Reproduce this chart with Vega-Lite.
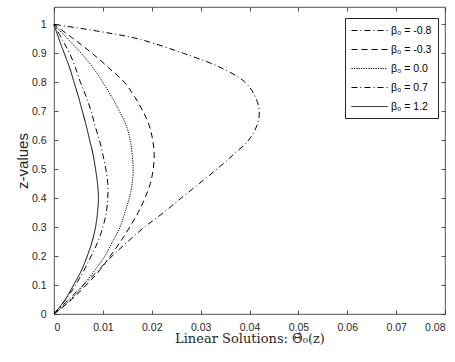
{
  "$schema": "https://vega.github.io/schema/vega-lite/v6.json",
  "autosize": {"type": "none"},
  "width": 391,
  "height": 307,
  "padding": {"left": 54, "top": 7, "right": 10, "bottom": 48},
  "background": "white",
  "config": {
    "view": {"stroke": "#262626", "strokeWidth": 0.8},
    "font": "Liberation Sans",
    "axis": {
      "domain": false,
      "grid": false,
      "tickColor": "#262626",
      "tickSize": -4,
      "tickWidth": 0.8,
      "labelColor": "#262626",
      "labelFont": "Liberation Sans",
      "labelFontSize": 10.5,
      "titleColor": "#262626",
      "titleFontWeight": "normal"
    }
  },
  "data": {
    "values": [
      {"beta": "β₀ = -0.8", "z": 0, "v": 0},
      {"beta": "β₀ = -0.8", "z": 0.05, "v": 0.0030},
      {"beta": "β₀ = -0.8", "z": 0.1, "v": 0.0060},
      {"beta": "β₀ = -0.8", "z": 0.15, "v": 0.0090},
      {"beta": "β₀ = -0.8", "z": 0.2, "v": 0.0119},
      {"beta": "β₀ = -0.8", "z": 0.25, "v": 0.0151},
      {"beta": "β₀ = -0.8", "z": 0.3, "v": 0.0185},
      {"beta": "β₀ = -0.8", "z": 0.35, "v": 0.0224},
      {"beta": "β₀ = -0.8", "z": 0.4, "v": 0.0260},
      {"beta": "β₀ = -0.8", "z": 0.45, "v": 0.0297},
      {"beta": "β₀ = -0.8", "z": 0.5, "v": 0.0333},
      {"beta": "β₀ = -0.8", "z": 0.55, "v": 0.0367},
      {"beta": "β₀ = -0.8", "z": 0.6, "v": 0.0398},
      {"beta": "β₀ = -0.8", "z": 0.65, "v": 0.0415},
      {"beta": "β₀ = -0.8", "z": 0.7, "v": 0.0420},
      {"beta": "β₀ = -0.8", "z": 0.75, "v": 0.0412},
      {"beta": "β₀ = -0.8", "z": 0.8, "v": 0.0391},
      {"beta": "β₀ = -0.8", "z": 0.85, "v": 0.0342},
      {"beta": "β₀ = -0.8", "z": 0.9, "v": 0.0265},
      {"beta": "β₀ = -0.8", "z": 0.95, "v": 0.0172},
      {"beta": "β₀ = -0.8", "z": 0.975, "v": 0.0095},
      {"beta": "β₀ = -0.8", "z": 1, "v": 0},
      {"beta": "β₀ = -0.3", "z": 0, "v": 0},
      {"beta": "β₀ = -0.3", "z": 0.05, "v": 0.0036},
      {"beta": "β₀ = -0.3", "z": 0.1, "v": 0.0066},
      {"beta": "β₀ = -0.3", "z": 0.15, "v": 0.0093},
      {"beta": "β₀ = -0.3", "z": 0.2, "v": 0.0115},
      {"beta": "β₀ = -0.3", "z": 0.25, "v": 0.0136},
      {"beta": "β₀ = -0.3", "z": 0.3, "v": 0.0155},
      {"beta": "β₀ = -0.3", "z": 0.35, "v": 0.0172},
      {"beta": "β₀ = -0.3", "z": 0.4, "v": 0.0186},
      {"beta": "β₀ = -0.3", "z": 0.45, "v": 0.0197},
      {"beta": "β₀ = -0.3", "z": 0.5, "v": 0.0203},
      {"beta": "β₀ = -0.3", "z": 0.55, "v": 0.0205},
      {"beta": "β₀ = -0.3", "z": 0.6, "v": 0.0202},
      {"beta": "β₀ = -0.3", "z": 0.65, "v": 0.0195},
      {"beta": "β₀ = -0.3", "z": 0.7, "v": 0.0182},
      {"beta": "β₀ = -0.3", "z": 0.75, "v": 0.0165},
      {"beta": "β₀ = -0.3", "z": 0.8, "v": 0.0144},
      {"beta": "β₀ = -0.3", "z": 0.85, "v": 0.0112},
      {"beta": "β₀ = -0.3", "z": 0.9, "v": 0.0078},
      {"beta": "β₀ = -0.3", "z": 0.95, "v": 0.0040},
      {"beta": "β₀ = -0.3", "z": 1, "v": 0},
      {"beta": "β₀ = 0.0", "z": 0, "v": 0},
      {"beta": "β₀ = 0.0", "z": 0.05, "v": 0.0034},
      {"beta": "β₀ = 0.0", "z": 0.1, "v": 0.0060},
      {"beta": "β₀ = 0.0", "z": 0.15, "v": 0.0083},
      {"beta": "β₀ = 0.0", "z": 0.2, "v": 0.0104},
      {"beta": "β₀ = 0.0", "z": 0.25, "v": 0.0120},
      {"beta": "β₀ = 0.0", "z": 0.3, "v": 0.0135},
      {"beta": "β₀ = 0.0", "z": 0.35, "v": 0.0145},
      {"beta": "β₀ = 0.0", "z": 0.4, "v": 0.0154},
      {"beta": "β₀ = 0.0", "z": 0.45, "v": 0.0160},
      {"beta": "β₀ = 0.0", "z": 0.5, "v": 0.0162},
      {"beta": "β₀ = 0.0", "z": 0.55, "v": 0.0160},
      {"beta": "β₀ = 0.0", "z": 0.6, "v": 0.0156},
      {"beta": "β₀ = 0.0", "z": 0.65, "v": 0.0148},
      {"beta": "β₀ = 0.0", "z": 0.7, "v": 0.0134},
      {"beta": "β₀ = 0.0", "z": 0.75, "v": 0.0118},
      {"beta": "β₀ = 0.0", "z": 0.8, "v": 0.0100},
      {"beta": "β₀ = 0.0", "z": 0.85, "v": 0.0080},
      {"beta": "β₀ = 0.0", "z": 0.9, "v": 0.0056},
      {"beta": "β₀ = 0.0", "z": 0.95, "v": 0.0028},
      {"beta": "β₀ = 0.0", "z": 1, "v": 0},
      {"beta": "β₀ = 0.7", "z": 0, "v": 0},
      {"beta": "β₀ = 0.7", "z": 0.05, "v": 0.0024},
      {"beta": "β₀ = 0.7", "z": 0.1, "v": 0.0044},
      {"beta": "β₀ = 0.7", "z": 0.15, "v": 0.0061},
      {"beta": "β₀ = 0.7", "z": 0.2, "v": 0.0076},
      {"beta": "β₀ = 0.7", "z": 0.25, "v": 0.0090},
      {"beta": "β₀ = 0.7", "z": 0.3, "v": 0.0100},
      {"beta": "β₀ = 0.7", "z": 0.35, "v": 0.0107},
      {"beta": "β₀ = 0.7", "z": 0.4, "v": 0.0110},
      {"beta": "β₀ = 0.7", "z": 0.45, "v": 0.0110},
      {"beta": "β₀ = 0.7", "z": 0.5, "v": 0.0106},
      {"beta": "β₀ = 0.7", "z": 0.55, "v": 0.0100},
      {"beta": "β₀ = 0.7", "z": 0.6, "v": 0.0093},
      {"beta": "β₀ = 0.7", "z": 0.65, "v": 0.0084},
      {"beta": "β₀ = 0.7", "z": 0.7, "v": 0.0076},
      {"beta": "β₀ = 0.7", "z": 0.75, "v": 0.0066},
      {"beta": "β₀ = 0.7", "z": 0.8, "v": 0.0054},
      {"beta": "β₀ = 0.7", "z": 0.85, "v": 0.0044},
      {"beta": "β₀ = 0.7", "z": 0.9, "v": 0.0032},
      {"beta": "β₀ = 0.7", "z": 0.95, "v": 0.0016},
      {"beta": "β₀ = 0.7", "z": 1, "v": 0},
      {"beta": "β₀ = 1.2", "z": 0, "v": 0},
      {"beta": "β₀ = 1.2", "z": 0.05, "v": 0.0023},
      {"beta": "β₀ = 1.2", "z": 0.1, "v": 0.0040},
      {"beta": "β₀ = 1.2", "z": 0.15, "v": 0.0056},
      {"beta": "β₀ = 1.2", "z": 0.2, "v": 0.0068},
      {"beta": "β₀ = 1.2", "z": 0.25, "v": 0.0078},
      {"beta": "β₀ = 1.2", "z": 0.3, "v": 0.0085},
      {"beta": "β₀ = 1.2", "z": 0.35, "v": 0.0089},
      {"beta": "β₀ = 1.2", "z": 0.4, "v": 0.0091},
      {"beta": "β₀ = 1.2", "z": 0.45, "v": 0.0089},
      {"beta": "β₀ = 1.2", "z": 0.5, "v": 0.0085},
      {"beta": "β₀ = 1.2", "z": 0.55, "v": 0.0080},
      {"beta": "β₀ = 1.2", "z": 0.6, "v": 0.0073},
      {"beta": "β₀ = 1.2", "z": 0.65, "v": 0.0066},
      {"beta": "β₀ = 1.2", "z": 0.7, "v": 0.0058},
      {"beta": "β₀ = 1.2", "z": 0.75, "v": 0.0050},
      {"beta": "β₀ = 1.2", "z": 0.8, "v": 0.0041},
      {"beta": "β₀ = 1.2", "z": 0.85, "v": 0.0032},
      {"beta": "β₀ = 1.2", "z": 0.9, "v": 0.0021},
      {"beta": "β₀ = 1.2", "z": 0.95, "v": 0.0010},
      {"beta": "β₀ = 1.2", "z": 1, "v": 0}
    ]
  },
  "layer": [
    {
      "mark": {"type": "line", "color": "black", "interpolate": "catmull-rom"},
      "encoding": {
        "x": {
          "field": "v", "type": "quantitative",
          "scale": {"domain": [0, 0.08], "nice": false, "zero": false},
          "axis": {
            "values": [0, 0.01, 0.02, 0.03, 0.04, 0.05, 0.06, 0.07, 0.08],
            "format": "~g",
            "labelPadding": 12,
            "title": "Linear Solutions: Θ̂₀(z)",
            "titleFont": "DejaVu Serif",
            "titleFontSize": 13,
            "titlePadding": 0
          }
        },
        "y": {
          "field": "z", "type": "quantitative",
          "scale": {"domain": [0, 1.06], "nice": false, "zero": false},
          "axis": {
            "values": [0, 0.1, 0.2, 0.3, 0.4, 0.5, 0.6, 0.7, 0.8, 0.9, 1],
            "format": "~g",
            "labelPadding": 12,
            "title": "z-values",
            "titleFontSize": 15,
            "titlePadding": 1
          }
        },
        "order": {"field": "z", "type": "quantitative"},
        "strokeDash": {
          "field": "beta", "type": "nominal",
          "scale": {
            "domain": ["β₀ = -0.8", "β₀ = -0.3", "β₀ = 0.0", "β₀ = 0.7", "β₀ = 1.2"],
            "range": [[6, 3, 1, 3], [6, 4], [1.2, 1.2], [6, 3, 1, 3], [1, 0]]
          },
          "legend": {
            "title": null,
            "orient": "none",
            "legendX": 291,
            "legendY": 11,
            "symbolType": "M-1,0H5",
            "symbolSize": 144,
            "symbolStrokeWidth": 1,
            "symbolStrokeColor": "black",
            "labelFont": "Liberation Sans",
            "labelFontSize": 10.5,
            "labelColor": "#000000",
            "labelOffset": 27,
            "rowPadding": 7,
            "strokeColor": "#262626",
            "fillColor": "white",
            "padding": 6,
            "cornerRadius": 0
          }
        },
        "strokeWidth": {
          "field": "beta", "type": "nominal",
          "scale": {
            "domain": ["β₀ = -0.8", "β₀ = -0.3", "β₀ = 0.0", "β₀ = 0.7", "β₀ = 1.2"],
            "range": [1, 1, 1.7, 1, 1]
          },
          "legend": null
        }
      }
    },
    {
      "mark": {"type": "line", "opacity": 0},
      "encoding": {
        "x": {
          "field": "v", "type": "quantitative",
          "scale": {"domain": [0, 0.08], "nice": false, "zero": false},
          "axis": {"orient": "top", "values": [0, 0.01, 0.02, 0.03, 0.04, 0.05, 0.06, 0.07, 0.08], "labels": false, "title": null}
        },
        "y": {
          "field": "z", "type": "quantitative",
          "scale": {"domain": [0, 1.06], "nice": false, "zero": false},
          "axis": {"orient": "right", "values": [0, 0.1, 0.2, 0.3, 0.4, 0.5, 0.6, 0.7, 0.8, 0.9, 1], "labels": false, "title": null}
        },
        "detail": {"field": "beta"},
        "order": {"field": "z", "type": "quantitative"}
      }
    }
  ],
  "resolve": {"axis": {"x": "independent", "y": "independent"}}
}
